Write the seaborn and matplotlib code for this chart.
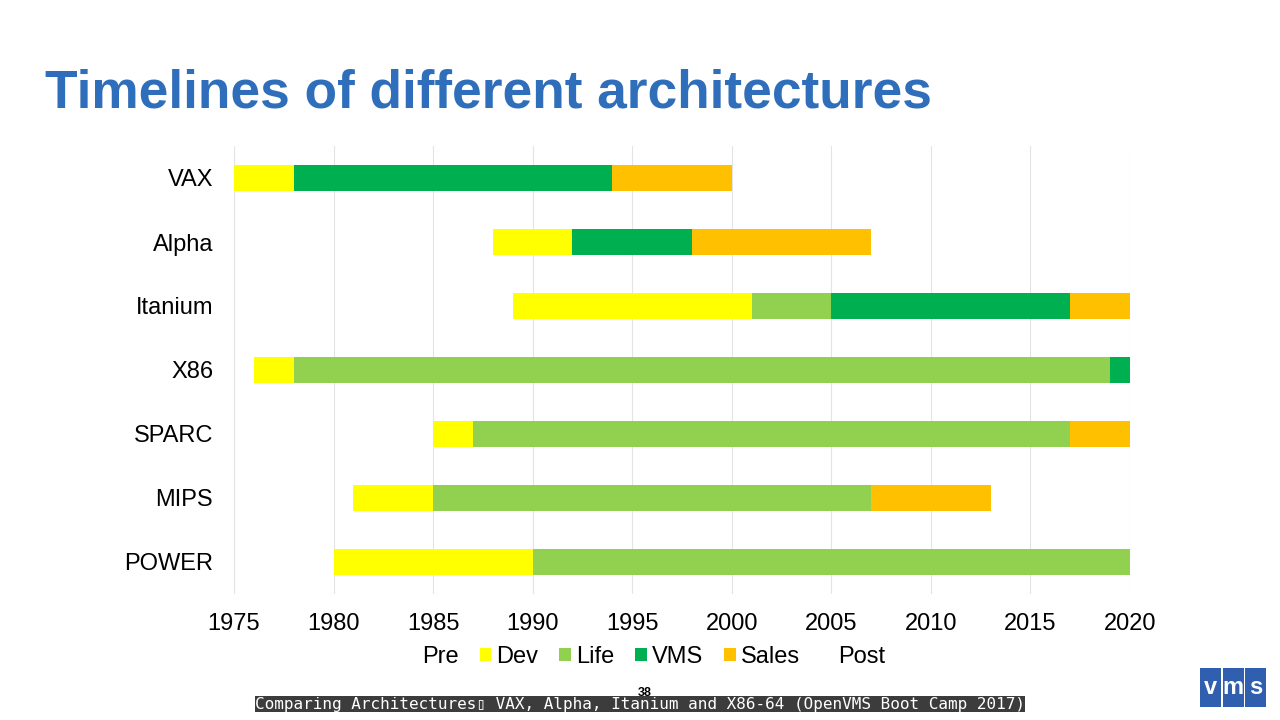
import matplotlib.pyplot as plt
import matplotlib.patches as mpatches
import numpy as np
import seaborn as sns

# ── Data (years) ───────────────────────────────────────────────
architectures = ["VAX", "Alpha", "Itanium", "X86", "SPARC", "MIPS", "POWER"]
pre_start = [1975, 1988, 1989, 1976, 1985, 1981, 1980]
dev_years = [3, 4, 12, 2, 2, 4, 10]
life_years = [0, 0, 4, 41, 30, 22, 30]
vms_years = [16, 6, 12, 1, 0, 0, 0]
sales_years = [6, 9, 3, 0, 3, 6, 0]
post_years = [20, 13, 0, 0, 0, 7, 0]

year_ticks = [1975, 1980, 1985, 1990, 1995, 2000, 2005, 2010, 2015, 2020]

# ── Style ──────────────────────────────────────────────────────
sns.set_theme(style="white")
plt.rcParams["font.family"] = ["Liberation Sans", "DejaVu Sans"]
plt.rcParams["text.color"] = "black"
plt.rcParams["xtick.color"] = "black"
plt.rcParams["ytick.color"] = "black"

DEV = "#FFFF00"
LIFE = "#92D050"
VMS = "#00B050"
SALES = "#FFC000"
TITLE_BLUE = "#2F6EBA"
GRID = "#E3E3E3"

fig = plt.figure(figsize=(12.8, 7.2), dpi=100)
ax = fig.add_axes([234 / 1280, 1 - 594 / 720, 896 / 1280, 448 / 720])

segments = [
    ("Dev", dev_years, DEV),
    ("Life", life_years, LIFE),
    ("VMS", vms_years, VMS),
    ("Sales", sales_years, SALES),
    ("Post", post_years, "none"),
]

# stacked horizontal bars, each segment starting where the last one ended
left = np.array(pre_start, dtype=float)
for name, vals, colour in segments:
    vals = np.array(vals, dtype=float)
    sns.barplot(x=vals, y=architectures, left=left, color=colour,
                orient="h", errorbar=None, width=0.4, saturation=1,
                linewidth=0, ax=ax)
    left = left + vals

ax.set_xlim(1975, 2020)
ax.set_ylim(6.5, -0.5)
ax.set_xticks(year_ticks)
ax.set_xticklabels([str(y) for y in year_ticks])
ax.xaxis.grid(True, color=GRID, linewidth=0.8)
ax.set_axisbelow(True)
for s in ax.spines.values():
    s.set_visible(False)
ax.tick_params(axis="x", length=0, pad=14, labelsize=17, labelcolor="black")
ax.tick_params(axis="y", length=0, pad=15, labelsize=17, labelcolor="black")
ax.set_xlabel("")
ax.set_ylabel("")

# legend
handles = [mpatches.Patch(facecolor="none", edgecolor="none", label="Pre")]
for name, _, colour in segments[:-1]:
    handles.append(mpatches.Patch(facecolor=colour, edgecolor="none", label=name))
handles.append(mpatches.Patch(facecolor="none", edgecolor="none", label="Post"))
fig.legend(handles=handles, loc="center", ncol=6, frameon=False,
           bbox_to_anchor=(645 / 1280, 1 - 657 / 720), fontsize=17,
           handlelength=0.5, handleheight=0.5, handletextpad=0.2,
           columnspacing=0.9, borderaxespad=0, labelcolor="black")

# title
fig.text(45 / 1280, 1 - 108 / 720, "Timelines of different architectures",
         fontsize=38.3, fontweight="bold", color=TITLE_BLUE,
         ha="left", va="baseline")

# footer
fig.text(645 / 1280, 1 - 693 / 720, "38", fontsize=9, fontweight="bold",
         color="black", ha="center", va="center", zorder=1)
fig.text(640 / 1280, 1 - 704 / 720,
         "Comparing Architectures\u25af VAX, Alpha, Itanium and X86-64 (OpenVMS Boot Camp 2017)",
         fontsize=11.5, family="DejaVu Sans Mono", color="white",
         ha="center", va="center", zorder=3,
         bbox=dict(facecolor="#3C3C3C", edgecolor="none", pad=0.4))

# vms logo
for i, ch in enumerate(["v", "m", "s"]):
    x0 = 1200 + i * 22.5
    fig.patches.append(mpatches.Rectangle(
        (x0 / 1280, 1 - 707 / 720), 21 / 1280, 39 / 720,
        transform=fig.transFigure, facecolor="#2F5FAE", edgecolor="none"))
    fig.text((x0 + 10.5) / 1280, 1 - 688 / 720, ch, fontsize=17,
             fontweight="bold", color="white", ha="center", va="center")

fig.savefig("out.png", dpi=100)
